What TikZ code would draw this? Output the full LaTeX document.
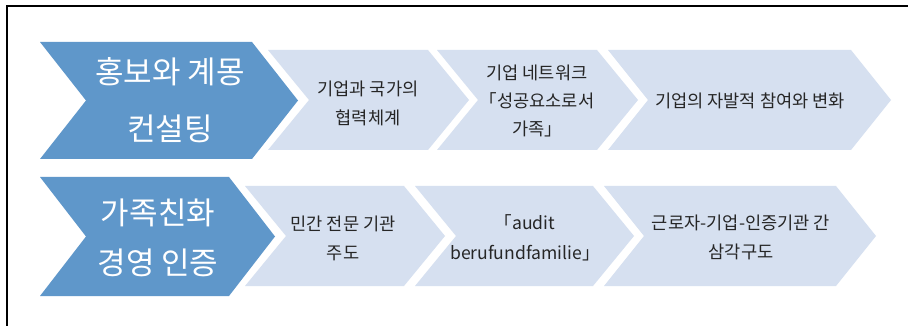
\documentclass[tikz,border=0pt]{standalone}
\usepackage{fontspec}
\setmainfont{Noto Sans CJK KR}
\definecolor{darkchev}{HTML}{5F97CA}
\definecolor{lightchev}{HTML}{D6E0F0}
\definecolor{chevtext}{HTML}{262626}
\newcommand\drawchev[7]{% fill, xl, xr, yt, yb, d
  \fill[#1] (#2,#4) -- (#3,#4) -- ({#3+#6},{(#4+#5)/2}) -- (#3,#5) -- (#2,#5) -- ({#2+#6},{(#4+#5)/2}) -- cycle;}
\tikzset{
  bigtext/.style={text=white, font=\fontsize{31}{#1}\selectfont, align=center, inner sep=0pt},
  smalltext/.style={text=chevtext, font=\fontsize{17.6}{#1}\selectfont, align=center, inner sep=0pt},
  frameline/.style={draw=black, line width=1.6pt}
}
\begin{document}
\begin{tikzpicture}[x=1pt,y=-1pt]
\useasboundingbox (0,0) rectangle (908,326);
\fill[white] (0,0) rectangle (908,326);
\coordinate (fa) at (7,327);
\coordinate (fb) at (7,6);
\coordinate (fc) at (909,6);
\draw[frameline] (fa) -- (fb) -- (fc);
% row 1
\drawchev{darkchev}{40}{252}{42}{159}{46}{}
\drawchev{lightchev}{268}{428}{50}{150}{41}{}
\drawchev{lightchev}{437}{597}{50}{150}{41}{}
\drawchev{lightchev}{608}{851}{50}{150}{40}{}
% row 2
\drawchev{darkchev}{40}{229}{177}{296}{46}{}
\drawchev{lightchev}{245}{404}{186}{286}{41}{}
\drawchev{lightchev}{415}{593}{186}{286}{41}{}
\drawchev{lightchev}{604}{836}{186}{286}{40}{}
% texts
\node[bigtext=57] (b1) at (170,100) {홍보와 계몽\\컨설팅};
\node[smalltext=29] (r1a) at (368,103) {기업과 국가의\\협력체계};
\node[smalltext=28] (r1b) at (537,100.5) {기업 네트워크\\「성공요소로서\\가족」};
\node[smalltext=29] (r1c) at (750,100.5) {기업의 자발적 참여와 변화};
\node[bigtext=50] (b2) at (158,238) {가족친화\\경영 인증};
\node[smalltext=29] (r2a) at (343,238) {민간 전문 기관\\주도};
\node[smalltext=30] (r2b) at (525,238) {「audit\\berufundfamilie」};
\node[smalltext=29] (r2c) at (741,237.5) {근로자-기업-인증기관 간\\삼각구도};
\end{tikzpicture}
\end{document}
